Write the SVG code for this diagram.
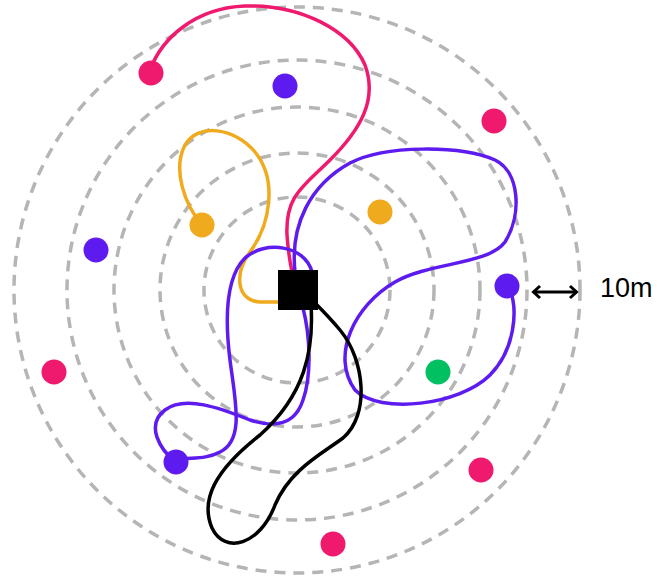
<svg xmlns="http://www.w3.org/2000/svg" width="657" height="578" viewBox="0 0 657 578">
<style>
.ring{fill:none;stroke:#b5b5b5;stroke-width:3.5;stroke-dasharray:11 8}
.p{fill:none;stroke-width:3.5;stroke-linecap:round;stroke-linejoin:round}
.mg{stroke:#ef1a6e}.pu{stroke:#5e1bef}.or{stroke:#f0aa1d}.bk{stroke:#000}
.dmg{fill:#ef1a6e}.dpu{fill:#5e1bef}.dor{fill:#f0aa1d}.dgr{fill:#00c062}
.lbl{font-family:"Liberation Sans",Arial,sans-serif;font-size:27px;fill:#000}
</style>
<defs>
<marker id="ah" viewBox="-10 -8 12 16" markerWidth="12" markerHeight="16" refX="0" refY="0" orient="auto-start-reverse" markerUnits="userSpaceOnUse">
<path d="M-7,-6 L-0.5,0 L-7,6" fill="none" stroke="#000" stroke-width="3"/>
</marker>
</defs>
<rect width="657" height="578" fill="#fff"/>
<g id="rings">
<circle class="ring" cx="297" cy="290" r="93"/>
<circle class="ring" cx="297" cy="290" r="137"/>
<circle class="ring" cx="297" cy="290" r="183"/>
<circle class="ring" cx="297" cy="290" r="230"/>
<circle class="ring" cx="297" cy="290" r="283"/>
</g>
<g id="connectors">
<path class="p mg" d="M150,70 C162,38 195,8 245,6 C300,4 350,30 365,65 C378,100 360,130 330,160 C305,185 285,195 287,235 C288,250 290,262 292,272"/>
<path class="p or" d="M202,225 C185,205 172,170 185,145 C198,122 235,128 255,152 C278,180 270,225 250,252 C235,272 235,300 260,302 L280,302"/>
<path class="p pu" d="M295,272 C290,225 310,185 350,163 C385,145 460,145 495,160 C520,172 522,215 505,242 C488,265 430,262 395,282 C355,305 330,355 355,390 C380,415 460,405 490,375 C515,350 518,310 510,290"/>
<path class="p pu" d="M312,272 C305,245 265,240 245,258 C225,278 225,320 230,360 C235,400 245,440 220,452 C205,460 190,457 176,460"/>
<path class="p pu" d="M176,462 C160,450 145,425 165,410 C185,395 220,408 250,420 C275,428 295,425 303,400 C312,375 310,335 303,308"/>
<path class="p bk" d="M311,305 C314,350 305,395 260,435 C215,470 200,500 212,528 C225,555 260,545 275,505 C290,470 320,455 343,438 C370,415 365,360 340,330 C330,318 322,310 315,303"/>
</g>
<g id="nodes">
<rect id="base" x="278" y="270" width="40" height="40" fill="#000"/>
<circle id="m1" class="dmg" cx="151" cy="73" r="12.5"/>
<circle id="u1" class="dpu" cx="285" cy="86" r="12.5"/>
<circle id="m2" class="dmg" cx="494" cy="121" r="12.5"/>
<circle id="o1" class="dor" cx="202" cy="225" r="12.5"/>
<circle id="o2" class="dor" cx="380" cy="212" r="12.5"/>
<circle id="u2" class="dpu" cx="96" cy="250" r="12.5"/>
<circle id="u3" class="dpu" cx="507" cy="286" r="12.5"/>
<circle id="m3" class="dmg" cx="54" cy="372" r="12.5"/>
<circle id="g1" class="dgr" cx="438" cy="372" r="12.5"/>
<circle id="u4" class="dpu" cx="176" cy="462" r="12.5"/>
<circle id="m4" class="dmg" cx="481" cy="470" r="12.5"/>
<circle id="m5" class="dmg" cx="333" cy="544" r="12.5"/>
</g>
<g id="scale">
<path d="M533,292 L577,292" stroke="#000" stroke-width="3" marker-start="url(#ah)" marker-end="url(#ah)"/>
<text class="lbl" x="600" y="297">10m</text>
</g>
</svg>
